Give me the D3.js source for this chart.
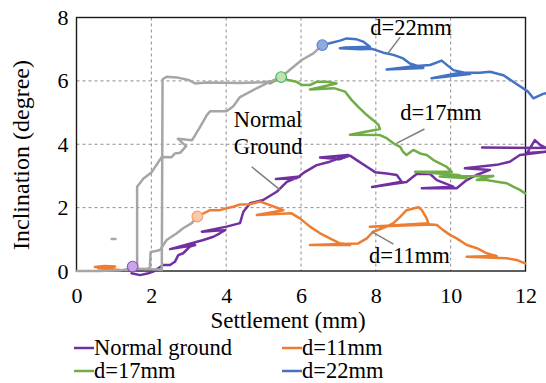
<!DOCTYPE html>
<html><head><meta charset="utf-8">
<script src="https://cdn.jsdelivr.net/npm/d3@7/dist/d3.min.js"></script>
<style>body{margin:0;background:#fff}svg{display:block}text{font-family:'Liberation Serif','Times New Roman',serif}</style></head>
<body><svg id="c" width="546" height="383"></svg>
<script>
// ---------- data ----------
const xTicks = [0, 2, 4, 6, 8, 10, 12];
const yTicks = [0, 2, 4, 6, 8];
const seriesNames = ["Normal ground", "d=11mm", "d=17mm", "d=22mm"];
const seriesColors = ["#7030a0", "#ed7d31", "#70ad47", "#4472c4"];

const normalGround = [[1.47,-0.07],[1.70,-0.13],[1.92,-0.07],[2.05,-0.02],[2.32,0.19],[2.50,0.19],[2.63,0.29],[2.72,0.50],[2.85,0.56],[3.03,0.77],[3.17,0.82],[2.50,0.69],[3.39,0.98],[3.66,1.08],[3.83,1.19],[3.97,1.29],[3.35,1.24],[4.01,1.40],[4.37,1.51],[4.46,1.87],[4.64,2.14],[4.99,2.24],[5.35,2.50],[5.62,2.81],[5.97,2.98],[5.33,2.90],[5.88,2.93],[6.11,3.13],[6.42,3.34],[6.77,3.45],[7.26,3.66],[6.51,3.58],[7.04,3.53],[7.31,3.64],[7.49,3.50],[7.76,3.29],[7.98,3.12],[8.29,3.08],[8.56,3.03],[8.69,2.82],[7.90,2.65],[8.82,2.81],[9.09,3.06],[9.45,3.06],[9.63,2.87],[10.07,2.66],[9.23,2.61],[10.16,2.61],[10.43,2.87],[10.69,3.03],[11.05,3.19],[10.38,3.24],[11.23,3.35],[11.58,3.45],[11.85,3.66],[12.55,3.76],[12.04,3.72],[12.25,4.13],[12.39,3.98],[12.55,3.88],[10.84,3.90]];

const d11 = [[0.49,0.13],[0.76,0.16],[1.03,0.14],[0.84,0.09],[0.58,0.09],[1.16,0.03],null,
  [3.23,1.72],[3.57,1.92],[3.83,1.92],[4.01,1.98],[4.19,2.03],[4.37,2.10],[4.64,2.11],[4.90,2.19],[4.99,2.16],[5.17,2.08],[5.39,1.98],[5.53,1.92],[4.82,1.77],[5.75,1.82],[5.97,1.66],[6.24,1.40],[6.51,1.19],[6.77,1.03],[7.04,0.87],[7.31,0.82],[6.24,0.82],[7.53,0.87],[7.76,1.03],[7.93,1.24],[8.29,1.40],[8.47,1.51],[8.65,1.71],[8.82,1.92],[9.14,2.01],[9.23,1.92],[9.36,1.66],[9.40,1.51],[7.84,1.40],[9.50,1.47],[9.63,1.45],[9.80,1.29],[9.98,1.14],[10.16,1.03],[10.43,0.82],[10.70,0.72],[10.96,0.56],[11.23,0.47],[10.43,0.45],[11.50,0.40],[11.76,0.35],[11.99,0.24]];

const d17 = [[5.17,5.92],[5.46,6.10],[5.66,6.03],[5.88,5.97],[6.02,5.87],[6.24,5.87],[6.42,5.97],[6.69,5.97],[6.95,5.92],[6.24,5.73],[6.88,5.77],[7.18,5.66],[7.35,5.40],[7.53,5.18],[7.76,4.92],[7.93,4.76],[8.07,4.61],[8.11,4.48],[7.31,4.30],[8.11,4.29],[8.29,4.19],[8.47,4.03],[8.65,3.92],[8.73,3.76],[8.82,3.66],[9.00,3.82],[9.18,3.71],[9.36,3.66],[9.54,3.50],[9.71,3.40],[9.89,3.29],[10.03,3.13],[9.05,3.13],[10.20,3.03],[10.43,2.93],[9.71,2.98],[11.14,3.00],[10.70,2.87],[10.96,2.87],[11.23,2.82],[11.50,2.77],[11.67,2.66],[11.85,2.56],[11.99,2.45]];

const d22 = [[6.57,7.12],[6.77,7.19],[7.04,7.27],[7.22,7.34],[7.49,7.31],[7.66,7.24],[7.84,7.08],[7.18,7.05],[7.04,7.03],[7.58,7.00],[7.90,7.01],[8.20,6.89],[8.47,6.82],[8.73,6.71],[8.91,6.55],[9.27,6.41],[8.29,6.36],[8.91,6.45],[9.45,6.50],[9.76,6.64],[10.07,6.34],[10.52,6.22],[9.49,6.08],[10.25,6.26],[10.78,6.26],[11.05,6.29],[11.41,6.18],[11.76,5.90],[12.07,5.66],[12.21,5.45],[12.47,5.59],[12.55,5.61]];

// gray traces (no legend entry)
const grayA = [[0,0],[0.63,0.0],[1.16,0.02],[1.48,0.08],[1.83,0.06],[2.18,0.05],[2.28,0.03],[2.30,6.05],[2.41,6.13],[2.68,6.11],[2.99,6.03],[3.17,5.92],[3.48,5.95],[4.37,5.93],[4.99,5.96],[5.22,5.99],[5.47,6.12],[6.02,6.66],[6.33,6.87],[6.57,7.13]];
const grayB = [[1.30,0.03],[1.62,0.06],[1.62,2.66],[1.79,2.92],[2.01,3.12],[2.19,3.44],[2.28,3.60],[2.54,3.59],[2.63,3.71],[2.77,3.73],[2.93,3.94],[2.71,4.17],[3.09,4.13],[3.30,4.54],[3.48,4.91],[3.57,5.04],[4.01,5.04],[4.19,5.20],[4.37,5.49],[4.72,5.71],[5.08,5.92],[5.47,6.12]];
const grayC = [[1.83,0.06],[1.96,0.09],[1.98,0.60],[2.12,0.63],[2.23,0.66],[2.41,0.98],[2.68,1.19],[2.85,1.35],[3.08,1.51],[3.23,1.72]];
const grayDash = [[0.94,1.01],[1.04,1.01]];

const markerPts = [[1.50,0.14],[3.23,1.72],[5.47,6.12],[6.57,7.13]];
const markerFill = ["#c9a6e6","#f8cbad","#c5e0b4","#8faadc"];
const markerStroke = ["#8e55c2","#f4a06a","#3cb95a","#5b83d0"];

const annotations = [
  {lines:["d=22mm"], at:[7.85,7.45], lead:[[8.30,6.83],[8.65,7.38]]},
  {lines:["d=17mm"], at:[8.65,4.75], lead:[[8.55,4.03],[9.30,4.48]]},
  {lines:["Normal","Ground"], at:[4.20,4.56], lead:[[4.68,3.29],[5.44,2.56]]},
  {lines:["d=11mm"], at:[7.82,0.24], lead:[[7.89,1.24],[8.47,0.85]]}
];

// ---------- drawing ----------
const svg = d3.select("#c");
const FONT = "'Liberation Serif','Times New Roman',serif";
const x = d3.scaleLinear().domain([0, 12]).range([76.5, 525.5]);
const y = d3.scaleLinear().domain([0, 8]).range([271, 17.5]);

// grid
svg.append("g").selectAll("line").data(xTicks.slice(1, -1)).join("line")
  .attr("x1", d => x(d)).attr("x2", d => x(d)).attr("y1", y(8)).attr("y2", y(0))
  .attr("stroke", "#8c8c8c").attr("stroke-width", 1).attr("stroke-dasharray", "3,3");
svg.append("g").selectAll("line").data(yTicks.slice(1, -1)).join("line")
  .attr("y1", d => y(d)).attr("y2", d => y(d)).attr("x1", x(0)).attr("x2", x(12))
  .attr("stroke", "#8c8c8c").attr("stroke-width", 1).attr("stroke-dasharray", "3,3");

// axes (labels only; frame drawn separately)
const xAxis = svg.append("g").attr("transform", `translate(0,${y(0)})`)
  .call(d3.axisBottom(x).tickValues(xTicks).tickSize(0).tickPadding(0).tickFormat(d3.format("d")));
const yAxis = svg.append("g").attr("transform", `translate(${x(0)},0)`)
  .call(d3.axisLeft(y).tickValues(yTicks).tickSize(0).tickPadding(8).tickFormat(d3.format("d")));
[xAxis, yAxis].forEach(g => {
  g.select(".domain").remove();
  g.attr("font-family", null).attr("font-size", null);
  g.selectAll("text").style("font-family", FONT).style("font-size", "22px").attr("fill", "#000");
});
xAxis.selectAll("text").attr("y", 32).attr("dy", null);

// frame
svg.append("rect").attr("x", x(0)).attr("y", y(8)).attr("width", x(12) - x(0)).attr("height", y(0) - y(8))
  .attr("fill", "none").attr("stroke", "#1a1a1a").attr("stroke-width", 1.4);

const line = d3.line().defined(d => d !== null).x(d => x(d[0])).y(d => y(d[1]));

// series
[normalGround, d11, d17, d22].forEach((s, i) => {
  svg.append("path").datum(s).attr("d", line).attr("fill", "none")
    .attr("stroke", seriesColors[i]).attr("stroke-width", 2.5)
    .attr("stroke-linejoin", "round").attr("stroke-linecap", "round");
});
// gray traces
[grayA, grayB, grayC, grayDash].forEach(s => {
  svg.append("path").datum(s).attr("d", line).attr("fill", "none")
    .attr("stroke", "#a6a6a6").attr("stroke-width", 2.5)
    .attr("stroke-linejoin", "round").attr("stroke-linecap", "round");
});
// markers
svg.append("g").selectAll("circle").data(markerPts).join("circle")
  .attr("cx", d => x(d[0])).attr("cy", d => y(d[1])).attr("r", 5.3)
  .attr("fill", (d, i) => markerFill[i]).attr("stroke", (d, i) => markerStroke[i]).attr("stroke-width", 1.2);

// annotations
annotations.forEach(a => {
  svg.append("line").attr("x1", x(a.lead[0][0])).attr("y1", y(a.lead[0][1]))
    .attr("x2", x(a.lead[1][0])).attr("y2", y(a.lead[1][1]))
    .attr("stroke", "#7f7f7f").attr("stroke-width", 1.5);
  a.lines.forEach((t, k) => {
    svg.append("text").attr("x", x(a.at[0])).attr("y", y(a.at[1]) + k * 27)
      .style("font-family", FONT).style("font-size", "22.5px").attr("fill", "#000").text(t);
  });
});

// axis titles
svg.append("text").attr("x", 288).attr("y", 328).attr("text-anchor", "middle")
  .style("font-family", FONT).style("font-size", "23px").text("Settlement (mm)");
svg.append("text").attr("transform", "translate(29,155) rotate(-90)").attr("text-anchor", "middle")
  .style("font-family", FONT).style("font-size", "24px").text("Inclination (degree)");

// legend
const legendPos = [[74, 348], [282, 348], [74, 371], [282, 371]];
seriesNames.forEach((n, i) => {
  const [lx, ly] = legendPos[i];
  svg.append("line").attr("x1", lx).attr("x2", lx + 20).attr("y1", ly).attr("y2", ly)
    .attr("stroke", seriesColors[i]).attr("stroke-width", 2.5);
  svg.append("text").attr("x", lx + 20).attr("y", ly + 7)
    .style("font-family", FONT).style("font-size", "22.5px").text(n);
});
</script></body></html>
